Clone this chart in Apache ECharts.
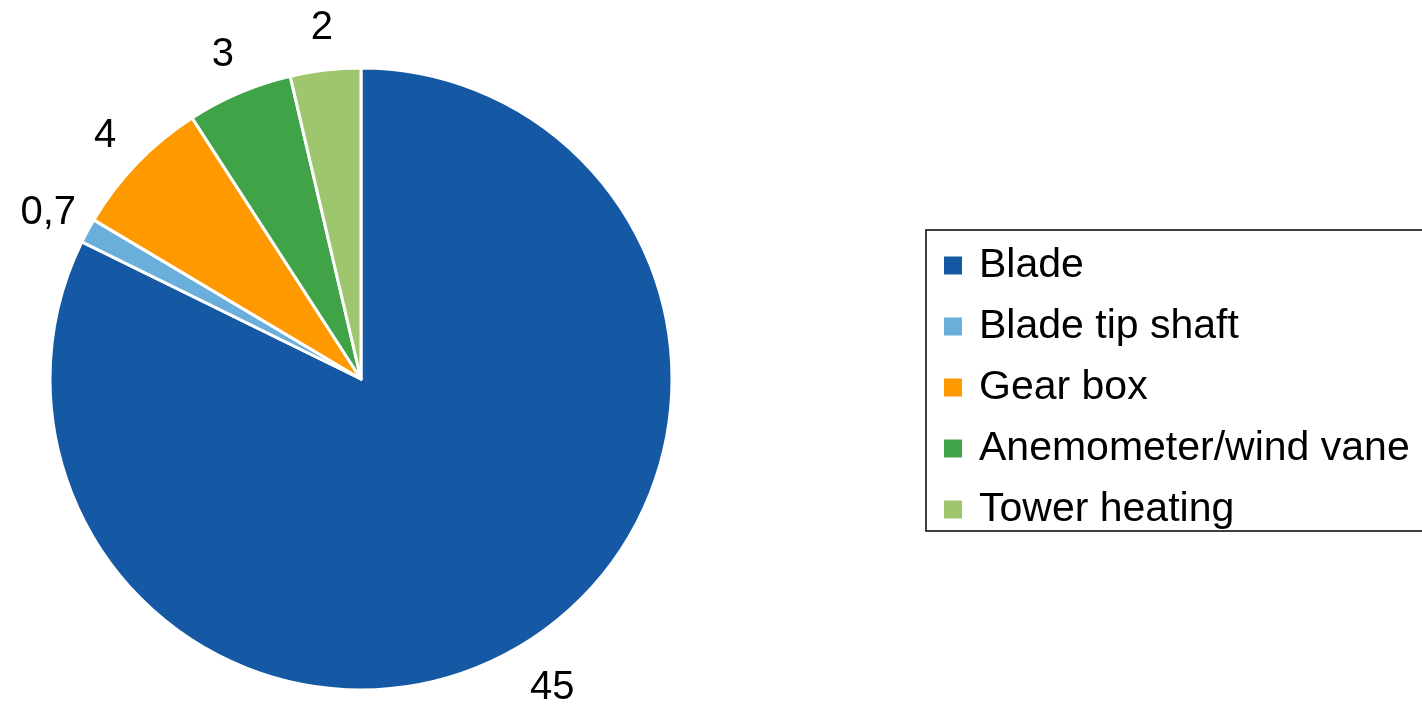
<!DOCTYPE html>
<html>
<head>
<meta charset="utf-8">
<script src="https://cdn.jsdelivr.net/npm/echarts@6/dist/echarts.min.js"></script>
<style>
html,body{margin:0;padding:0;background:#fff;}
#chart{width:1422px;height:704px;}
</style>
</head>
<body>
<div id="chart"></div>
<script>
const categories = ['Blade', 'Blade tip shaft', 'Gear box', 'Anemometer/wind vane', 'Tower heating'];
const values = [45, 0.7, 4, 3, 2];
const colors = ['#1559A5', '#6AAEDB', '#FF9900', '#40A347', '#9DC66E'];

const data = categories.map((c, i) => ({ name: c, value: values[i], itemStyle: { color: colors[i] } }));
const fmt = v => String(v).replace('.', ',');

const chart = echarts.init(document.getElementById('chart'), null, { renderer: 'canvas' });
chart.setOption({
  animation: false,
  backgroundColor: '#fff',
  textStyle: { fontFamily: 'Liberation Sans, Arial, sans-serif' },
  legend: {
    orient: 'vertical',
    left: 926,
    top: 230,
    padding: [15, 40, 1, 16],
    itemGap: 20,
    itemWidth: 20,
    itemHeight: 20,
    icon: 'rect',
    borderColor: '#000',
    borderWidth: 1.5,
    borderRadius: 0,
    textStyle: { fontSize: 41, color: '#000', lineHeight: 40, padding: [0, 0, 0, 11], fontFamily: 'Liberation Sans, Arial, sans-serif' },
    data: categories
  },
  series: [
    {
      type: 'pie',
      name: 'main',
      center: [361, 379],
      radius: [0, 311],
      startAngle: 90,
      clockwise: true,
      avoidLabelOverlap: false,
      itemStyle: { borderColor: '#fff', borderWidth: 3 },
      label: { show: false },
      labelLine: { show: false },
      emphasis: { disabled: true },
      data: data
    },
    {
      type: 'pie',
      name: 'labels',
      silent: true,
      center: [361, 379],
      radius: [311, 399],
      startAngle: 90,
      clockwise: true,
      avoidLabelOverlap: false,
      itemStyle: { color: 'rgba(0,0,0,0)', borderWidth: 0 },
      label: {
        show: true,
        position: 'inside',
        fontSize: 40,
        color: '#000',
        overflow: 'none',
        offset: [2, 5],
        fontFamily: 'Liberation Sans, Arial, sans-serif',
        formatter: p => fmt(p.value)
      },
      labelLine: { show: false },
      emphasis: { disabled: true },
      data: categories.map((c, i) => ({ name: c, value: values[i] }))
    }
  ]
});
</script>
</body>
</html>
